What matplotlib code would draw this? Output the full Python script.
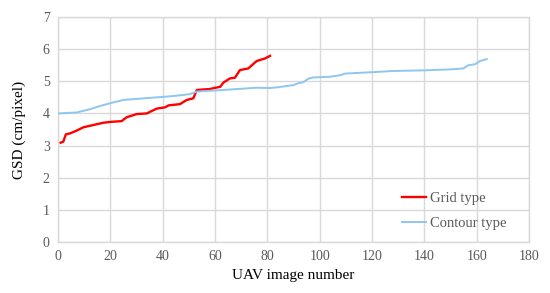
import matplotlib
matplotlib.use("Agg")
import matplotlib.pyplot as plt

# Grid type flight (red) - vertices
grid_x = [1, 2, 3, 4.6, 7, 9.7, 13.5, 17.3, 20.5, 24.3, 26.2, 30, 33.9, 37.7,
          40.9, 42.2, 46.6, 49.2, 51.7, 53, 58, 62, 63.2, 65.7, 67.6, 69.5,
          72.7, 75.9, 79.1, 81]
grid_y = [3.09, 3.12, 3.35, 3.38, 3.46, 3.57, 3.64, 3.71, 3.74, 3.76, 3.88,
          3.98, 4.0, 4.15, 4.19, 4.25, 4.29, 4.42, 4.47, 4.73, 4.76, 4.83,
          4.96, 5.09, 5.11, 5.35, 5.40, 5.63, 5.71, 5.79]

# Contour type flight (light blue)
contour_x = [0, 7.1, 12.2, 16, 20.5, 25, 31.3, 37.7, 44, 50.4, 53, 63.2,
             75.9, 81, 83.6, 89.9, 91.8, 93.7, 95.6, 97.6, 103.9, 107.8,
             109.7, 119.2, 128.1, 139.6, 149.8, 154.9, 156.8, 159.3, 161.3,
             163.8]
contour_y = [4.0, 4.03, 4.13, 4.23, 4.33, 4.42, 4.46, 4.50, 4.54, 4.60, 4.68,
             4.73, 4.80, 4.79, 4.81, 4.88, 4.94, 4.97, 5.08, 5.12, 5.14, 5.19,
             5.24, 5.28, 5.32, 5.34, 5.37, 5.40, 5.50, 5.53, 5.63, 5.69]

x_ticks = [0, 20, 40, 60, 80, 100, 120, 140, 160, 180]
y_ticks = [0, 1, 2, 3, 4, 5, 6, 7]

plt.rcParams["font.family"] = ["Liberation Serif", "DejaVu Serif"]

fig = plt.figure(figsize=(5.5, 2.93), dpi=100)
ax = fig.add_axes([0.1055, 0.174, 0.8565, 0.768])

ax.plot(grid_x, grid_y, color="#FF0000", linewidth=1.7, label="Grid type", zorder=3)
ax.plot(contour_x, contour_y, color="#8EC6EE", linewidth=1.4, label="Contour type", zorder=3)

ax.set_xlim(0, 180)
ax.set_ylim(0, 7)
ax.set_xticks(x_ticks)
ax.set_yticks(y_ticks)
ax.grid(True, color="#D9D9D9", linewidth=1.0)
ax.set_axisbelow(True)
for s in ax.spines.values():
    s.set_color("#D9D9D9")
    s.set_linewidth(1.0)
ax.tick_params(length=0, labelsize=10, colors="#595959", pad=6)

ax.set_xlabel("UAV image number", fontsize=11, labelpad=4)
ax.set_ylabel("GSD (cm/pixel)", fontsize=11, labelpad=12)

ax.legend(loc="lower right", bbox_to_anchor=(0.98, -0.005), frameon=False,
          fontsize=10.5, handlelength=1.6, handletextpad=0.3, labelspacing=0.8,
          labelcolor="#595959")

fig.savefig("out.png", dpi=100)
